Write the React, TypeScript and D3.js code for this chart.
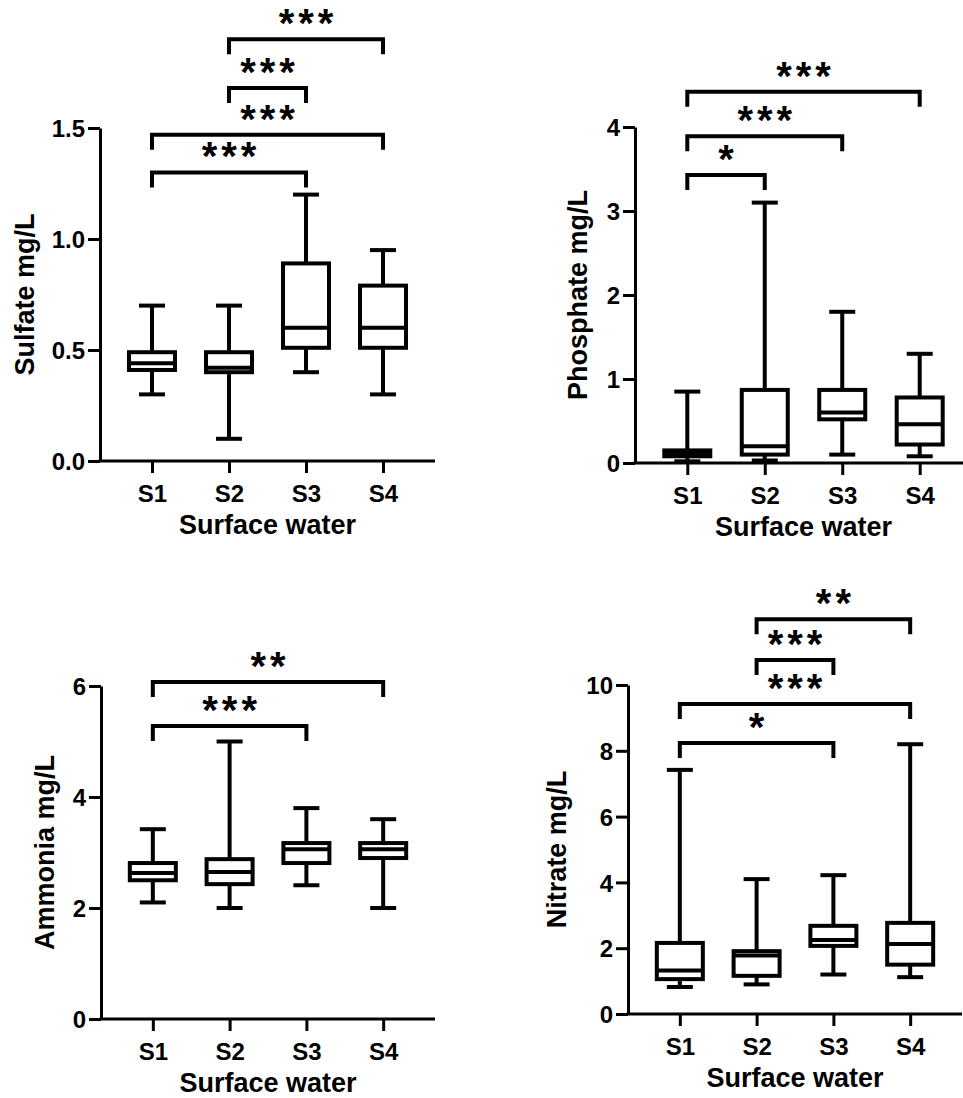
import React, { useEffect, useRef } from 'react';
import * as d3 from 'd3';

const sites = ['S1', 'S2', 'S3', 'S4'];

// box summaries: [min, q1, median, q3, max]
const sulfate = [
  [0.30, 0.41, 0.44, 0.49, 0.70],
  [0.10, 0.40, 0.42, 0.49, 0.70],
  [0.40, 0.51, 0.60, 0.89, 1.20],
  [0.30, 0.51, 0.60, 0.79, 0.95],
];
const phosphate = [
  [0.02, 0.08, 0.12, 0.15, 0.85],
  [0.03, 0.10, 0.20, 0.87, 3.10],
  [0.10, 0.52, 0.60, 0.87, 1.80],
  [0.08, 0.22, 0.46, 0.78, 1.30],
];
const ammonia = [
  [2.10, 2.50, 2.63, 2.81, 3.42],
  [2.00, 2.43, 2.65, 2.88, 5.00],
  [2.41, 2.81, 3.06, 3.17, 3.80],
  [2.00, 2.90, 3.06, 3.17, 3.60],
];
const nitrate = [
  [0.82, 1.06, 1.32, 2.16, 7.42],
  [0.90, 1.16, 1.78, 1.91, 4.10],
  [1.20, 2.07, 2.25, 2.68, 4.22],
  [1.12, 1.50, 2.13, 2.77, 8.20],
];

// significance brackets: [from, to, bracket level (data units), label]
const sulfateSig = [['S1', 'S3', 1.30, '***'], ['S1', 'S4', 1.47, '***'], ['S2', 'S3', 1.68, '***'], ['S2', 'S4', 1.90, '***']];
const phosphateSig = [['S1', 'S2', 3.43, '*'], ['S1', 'S3', 3.89, '***'], ['S1', 'S4', 4.42, '***']];
const ammoniaSig = [['S1', 'S3', 5.28, '***'], ['S1', 'S4', 6.07, '**']];
const nitrateSig = [['S1', 'S3', 8.24, '*'], ['S1', 'S4', 9.42, '***'], ['S2', 'S3', 10.76, '***'], ['S2', 'S4', 12.0, '**']];

const sulfateTicks = [0, 0.5, 1.0, 1.5];
const phosphateTicks = [0, 1, 2, 3, 4];
const ammoniaTicks = [0, 2, 4, 6];
const nitrateTicks = [0, 2, 4, 6, 8, 10];

const FONT = '"Liberation Sans", Arial, sans-serif';

const panels = [
  { data: sulfate, sig: sulfateSig, ticks: sulfateTicks, fmt: '.1f', label: 'Sulfate mg/L', x0: 100, x1: 435, y0: 461, y1: 128, labelX: 25 },
  { data: phosphate, sig: phosphateSig, ticks: phosphateTicks, fmt: 'd', label: 'Phosphate mg/L', x0: 635, x1: 972, y0: 463, y1: 127, labelX: 578 },
  { data: ammonia, sig: ammoniaSig, ticks: ammoniaTicks, fmt: 'd', label: 'Ammonia mg/L', x0: 101, x1: 435, y0: 1019, y1: 686, labelX: 45 },
  { data: nitrate, sig: nitrateSig, ticks: nitrateTicks, fmt: 'd', label: 'Nitrate mg/L', x0: 628, x1: 962, y0: 1014, y1: 685, labelX: 557 },
];

const App = () => {
  const svgRef = useRef(null);

  useEffect(() => {
    const svg = d3.select(svgRef.current);
    svg.selectAll('*').remove();

    panels.forEach(p => {
      const g = svg.append('g');
      const yMax = p.ticks[p.ticks.length - 1];

      const x = d3.scalePoint()
        .domain(sites)
        .range([p.x0, p.x1])
        .padding(0.675);

      const y = d3.scaleLinear()
        .domain([0, yMax])
        .range([p.y0, p.y1]);

      // y轴
      const yAxis = g.append('g')
        .attr('transform', `translate(${p.x0},0)`)
        .call(d3.axisLeft(y).tickValues(p.ticks).tickFormat(d3.format(p.fmt)).tickSize(12).tickSizeOuter(0));
      yAxis.selectAll('path, line').attr('stroke', '#000').attr('stroke-width', 3);
      yAxis.selectAll('text')
        .attr('x', -15)
        .attr('dy', '0.36em')
        .attr('fill', '#000')
        .style('font', `bold 24px ${FONT}`);

      // x轴
      const xAxis = g.append('g')
        .attr('transform', `translate(0,${p.y0})`)
        .call(d3.axisBottom(x).tickSize(12).tickSizeOuter(0));
      xAxis.select('.domain').attr('d', `M${p.x0 - 1.5},0H${p.x1}`);
      xAxis.selectAll('path, line').attr('stroke', '#000').attr('stroke-width', 3);
      xAxis.selectAll('text')
        .attr('y', 41)
        .attr('dy', 0)
        .attr('fill', '#000')
        .style('font', `bold 24px ${FONT}`);

      // 轴标题
      g.append('text')
        .attr('transform', `translate(${p.labelX},${(p.y0 + p.y1) / 2}) rotate(-90)`)
        .attr('text-anchor', 'middle')
        .attr('dy', '0.35em')
        .style('font', `bold 27px ${FONT}`)
        .text(p.label);

      g.append('text')
        .attr('x', (x('S1') + x('S4')) / 2)
        .attr('y', p.y0 + 73)
        .attr('text-anchor', 'middle')
        .style('font', `bold 27px ${FONT}`)
        .text('Surface water');

      // 箱线图
      const boxW = 46;
      const capW = 26;
      p.data.forEach((d, i) => {
        const cx = x(sites[i]);
        const [mn, q1, med, q3, mx] = d;
        const b = g.append('g').attr('stroke', '#000').attr('stroke-width', 4).attr('fill', 'none');
        b.append('line').attr('x1', cx).attr('x2', cx).attr('y1', y(mx)).attr('y2', y(q3));
        b.append('line').attr('x1', cx).attr('x2', cx).attr('y1', y(q1)).attr('y2', y(mn));
        b.append('line').attr('x1', cx - capW / 2).attr('x2', cx + capW / 2).attr('y1', y(mx)).attr('y2', y(mx));
        b.append('line').attr('x1', cx - capW / 2).attr('x2', cx + capW / 2).attr('y1', y(mn)).attr('y2', y(mn));
        b.append('rect')
          .attr('x', cx - boxW / 2)
          .attr('y', y(q3))
          .attr('width', boxW)
          .attr('height', y(q1) - y(q3))
          .attr('fill', '#fff');
        b.append('line').attr('x1', cx - boxW / 2).attr('x2', cx + boxW / 2).attr('y1', y(med)).attr('y2', y(med));
      });

      // 显著性标记
      const spacing = 4;
      p.sig.forEach(([a, bKey, level, label]) => {
        const xa = x(a);
        const xb = x(bKey);
        const ly = y(level);
        g.append('path')
          .attr('d', `M${xa},${ly + 15}V${ly}H${xb}V${ly + 15}`)
          .attr('fill', 'none')
          .attr('stroke', '#000')
          .attr('stroke-width', 4);
        g.append('text')
          .attr('x', (xa + xb) / 2 + spacing / 2)
          .attr('y', ly - 2)
          .attr('text-anchor', 'middle')
          .attr('letter-spacing', spacing)
          .style('font', `bold 40px ${FONT}`)
          .text(label);
      });
    });
  }, []);

  return (
    <svg
      ref={svgRef}
      width={963}
      height={1098}
      style={{ position: 'absolute', left: 0, top: 0, background: '#fff' }}
    />
  );
};

export default App;
